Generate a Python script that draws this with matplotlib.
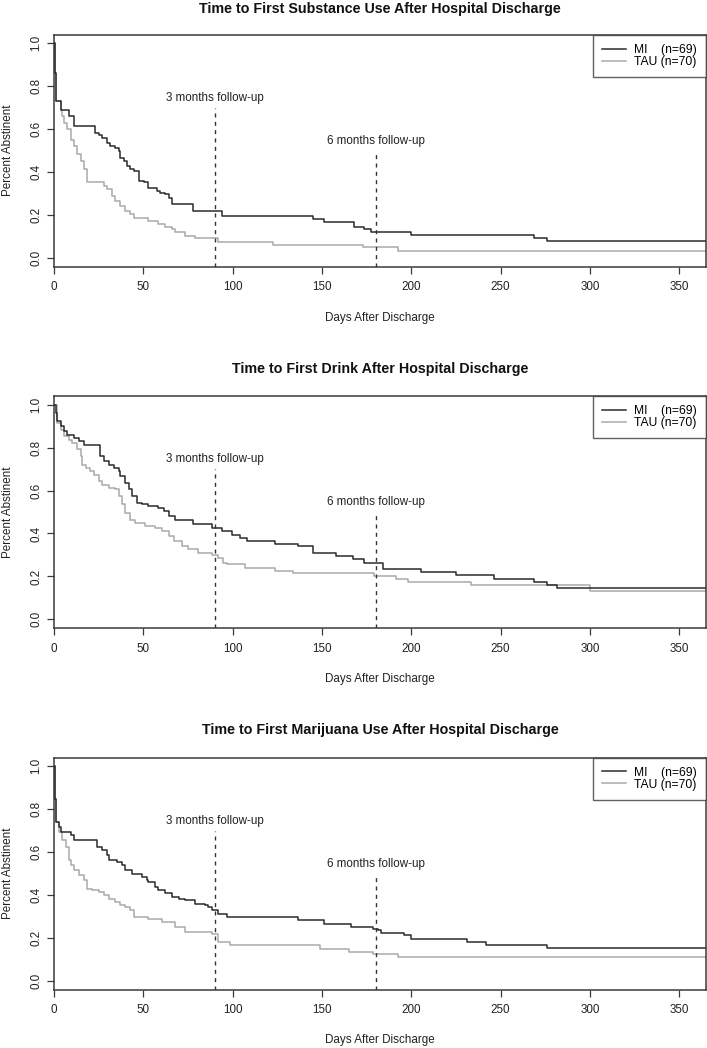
import matplotlib
matplotlib.use("Agg")
import matplotlib.pyplot as plt

plt.rcParams['font.family'] = ['Liberation Sans', 'DejaVu Sans']

# ---------------- data (days of drop, survival after drop) ----------------
titles = ["Time to First Substance Use After Hospital Discharge",
          "Time to First Drink After Hospital Discharge",
          "Time to First Marijuana Use After Hospital Discharge"]

group_labels = ["MI    (n=69)", "TAU (n=70)"]

# Panel 1: substance use
sub_mi_days = [0.56, 1.3, 3.7, 8.4, 11.1, 23.2, 25.1, 26.9, 29.7, 31.6, 34.4, 36.2, 37.2,
               39.0, 40.9, 42.7, 44.6, 47.4, 50.2, 52.9, 57.6, 59.5, 62.2, 64.1, 65.9,
               78.0, 93.8, 96.6, 145.0, 151.4, 168.2, 173.7, 177.4, 199.7, 268.5, 276.0]
sub_mi_surv = [0.861, 0.730, 0.691, 0.660, 0.614, 0.583, 0.575, 0.560, 0.537, 0.521, 0.513,
               0.498, 0.467, 0.452, 0.429, 0.413, 0.406, 0.359, 0.352, 0.328, 0.313, 0.305,
               0.297, 0.282, 0.251, 0.220, 0.197, 0.194, 0.181, 0.166, 0.143, 0.135, 0.120,
               0.107, 0.092, 0.078]
sub_tau_days = [0.56, 1.3, 3.7, 4.65, 5.57, 7.43, 9.29, 11.15, 13.0, 14.9, 16.7, 18.6, 27.9,
                29.7, 32.5, 34.4, 37.2, 39.9, 42.7, 44.6, 52.9, 58.5, 62.2, 65.9, 67.8,
                73.4, 78.9, 92.0, 122.5, 172.8, 192.3]
sub_tau_surv = [0.861, 0.730, 0.691, 0.660, 0.629, 0.599, 0.552, 0.521, 0.483, 0.452, 0.413,
                0.352, 0.336, 0.320, 0.289, 0.266, 0.243, 0.220, 0.204, 0.189, 0.173, 0.158,
                0.143, 0.135, 0.120, 0.104, 0.092, 0.073, 0.061, 0.050, 0.034]

# Panel 2: drink
drk_mi_days = [0.93, 1.86, 3.7, 5.6, 7.4, 11.15, 13.9, 16.7, 26.0, 27.9, 30.7, 33.4, 36.2,
               37.2, 39.9, 41.8, 43.7, 46.5, 49.2, 52.9, 58.5, 61.3, 64.1, 67.8, 78.0, 88.2,
               93.8, 99.4, 104.1, 107.8, 123.6, 136.6, 145.0, 158.0, 167.2, 173.7, 184.0,
               205.3, 224.8, 246.2, 268.5, 276.0, 281.5]
drk_mi_surv = [0.961, 0.922, 0.899, 0.876, 0.860, 0.845, 0.829, 0.814, 0.760, 0.736, 0.721,
               0.705, 0.690, 0.667, 0.636, 0.605, 0.574, 0.543, 0.535, 0.527, 0.519, 0.504,
               0.481, 0.465, 0.442, 0.426, 0.411, 0.395, 0.380, 0.364, 0.353, 0.341, 0.310,
               0.295, 0.279, 0.264, 0.233, 0.220, 0.205, 0.189, 0.174, 0.158, 0.144]
drk_tau_days = [1.86, 3.7, 5.6, 8.4, 10.2, 13.0, 14.9, 15.8, 17.7, 20.4, 22.3, 25.1, 26.9,
                30.7, 34.4, 36.2, 38.1, 39.9, 42.7, 45.5, 51.1, 56.7, 60.4, 64.1, 66.9,
                71.5, 75.2, 80.8, 88.2, 92.0, 94.8, 96.6, 106.8, 123.6, 133.8, 179.3,
                191.4, 197.9, 233.2, 300.1]
drk_tau_surv = [0.915, 0.884, 0.853, 0.837, 0.822, 0.791, 0.760, 0.721, 0.705, 0.690, 0.674,
                0.643, 0.628, 0.612, 0.605, 0.574, 0.535, 0.496, 0.465, 0.450, 0.434, 0.426,
                0.411, 0.388, 0.364, 0.341, 0.326, 0.310, 0.302, 0.287, 0.264, 0.256, 0.240,
                0.225, 0.217, 0.202, 0.186, 0.174, 0.158, 0.132]

# Panel 3: marijuana
mj_mi_days = [0.56, 1.3, 2.8, 3.7, 9.3, 11.15, 24.2, 26.9, 29.7, 30.7, 35.3, 38.1, 39.9,
              43.7, 49.2, 52.0, 52.9, 56.7, 58.5, 62.2, 65.9, 69.7, 73.4, 78.9, 84.5, 86.4,
              88.2, 92.0, 96.6, 136.6, 151.4, 166.3, 178.4, 181.2, 183.0, 196.0, 199.7,
              231.3, 241.6, 276.0]
mj_mi_surv = [0.849, 0.740, 0.717, 0.694, 0.678, 0.655, 0.624, 0.609, 0.585, 0.562, 0.554,
              0.539, 0.515, 0.500, 0.484, 0.469, 0.461, 0.438, 0.422, 0.407, 0.391, 0.383,
              0.375, 0.360, 0.352, 0.344, 0.329, 0.313, 0.298, 0.282, 0.267, 0.251, 0.243,
              0.235, 0.225, 0.212, 0.196, 0.181, 0.169, 0.153]
mj_tau_days = [0.56, 1.3, 2.8, 4.65, 6.5, 8.4, 9.3, 11.15, 13.9, 16.7, 18.6, 21.4, 25.1,
               27.9, 30.7, 34.4, 37.2, 39.9, 42.7, 44.6, 52.9, 60.4, 67.8, 73.4, 88.2, 92.0,
               98.5, 148.7, 165.4, 178.4, 192.3]
mj_tau_surv = [0.849, 0.740, 0.694, 0.655, 0.624, 0.562, 0.539, 0.515, 0.492, 0.469, 0.430,
               0.422, 0.414, 0.399, 0.383, 0.368, 0.352, 0.344, 0.329, 0.298, 0.290, 0.275,
               0.251, 0.228, 0.220, 0.181, 0.166, 0.150, 0.135, 0.127, 0.111]

panels = [
    (sub_mi_days, sub_mi_surv, sub_tau_days, sub_tau_surv),
    (drk_mi_days, drk_mi_surv, drk_tau_days, drk_tau_surv),
    (mj_mi_days, mj_mi_surv, mj_tau_days, mj_tau_surv),
]

followup_days = [90, 180]
followup_labels = ["3 months follow-up", "6 months follow-up"]
followup_text_y = [0.745, 0.545]
followup_line_top = [0.70, 0.50]

x_max = 365
x_ticks = [0, 50, 100, 150, 200, 250, 300, 350]
y_ticks = [0.0, 0.2, 0.4, 0.6, 0.8, 1.0]
y_ticklabels = ["0.0", "0.2", "0.4", "0.6", "0.8", "1.0"]

# ---------------- styling ----------------
W, H = 707, 1048
fig = plt.figure(figsize=(W / 100, H / 100), dpi=100)
fig.patch.set_facecolor("white")

mi_color = "#2b2b2b"
tau_color = "#a9a9a9"
frame_color = "#3a3a3a"
fs = 8.4

left_px, right_px = 54, 706
tops_px = [34.7, 396.0, 757.5]
title_centers_px = [9.5, 369.5, 730.5]
height_px = 232.0
xlabel_gap_px = 51.0


def km_steps(days, surv):
    xs = [0.0] + list(days) + [x_max]
    ys = [1.0] + list(surv) + [surv[-1]]
    return xs, ys


for i, (mi_d, mi_s, tau_d, tau_s) in enumerate(panels):
    top = tops_px[i]
    ax = fig.add_axes([left_px / W, 1 - (top + height_px) / H,
                       (right_px - left_px) / W, height_px / H])
    ax.set_xlim(0, x_max)
    ax.set_ylim(-0.04, 1.04)

    x, y = km_steps(tau_d, tau_s)
    ax.step(x, y, where="post", color=tau_color, lw=1.1, label=group_labels[1], zorder=2)
    x, y = km_steps(mi_d, mi_s)
    ax.step(x, y, where="post", color=mi_color, lw=1.1, label=group_labels[0], zorder=3)

    for d, lab, ty, lt in zip(followup_days, followup_labels, followup_text_y, followup_line_top):
        ax.vlines(d, -0.04, lt, colors="#333333", linewidth=1.0,
                  linestyles=(0, (2.9, 3.1)), zorder=4)
        ax.text(d, ty, lab, ha="center", va="center", fontsize=fs, color="#222222")

    ax.set_xticks(x_ticks)
    ax.set_yticks(y_ticks)
    ax.set_yticklabels(y_ticklabels, rotation=90, va="center")
    ax.tick_params(axis="both", direction="out", length=5, width=0.9,
                   color=frame_color, labelsize=fs, labelcolor="#222222")
    ax.tick_params(axis="x", pad=5.5)
    ax.tick_params(axis="y", pad=3.5)
    for sp in ax.spines.values():
        sp.set_color(frame_color)
        sp.set_linewidth(1.1)

    ax.set_xlabel("Days After Discharge", fontsize=fs, color="#222222", va="center")
    ax.xaxis.set_label_coords(0.5, -xlabel_gap_px / height_px)
    ax.set_ylabel("Percent Abstinent", fontsize=fs, color="#222222", va="center")
    ax.yaxis.set_label_coords(-(54 - 8) / 652, 0.5)

    ax.set_title(titles[i], fontsize=10.3, fontweight="bold", color="#111111",
                 y=1 + (top - title_centers_px[i]) / height_px, va="center", pad=0)

    handles, labels = ax.get_legend_handles_labels()
    leg = ax.legend(handles[::-1], labels[::-1], loc="upper right", fontsize=8.7,
                    frameon=True, fancybox=False, borderaxespad=0.0,
                    handlelength=2.0, handletextpad=0.7,
                    labelspacing=0.0, borderpad=0.75)
    leg.get_frame().set_edgecolor(frame_color)
    leg.get_frame().set_linewidth(1.0)

fig.savefig("out.png", dpi=100, facecolor="white")
